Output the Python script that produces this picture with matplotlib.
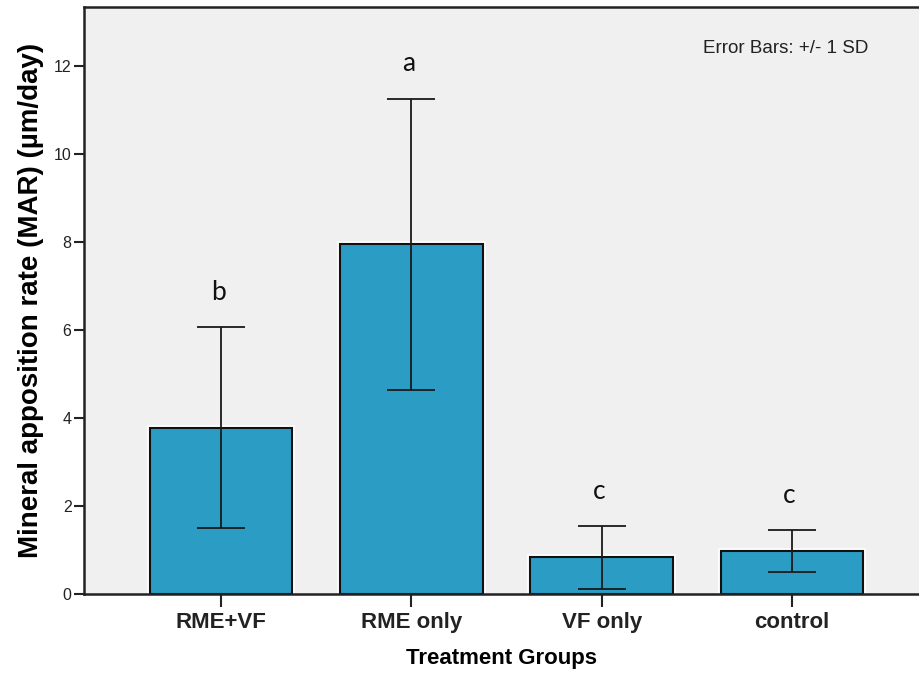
import matplotlib
matplotlib.use("Agg")
import matplotlib.pyplot as plt
import matplotlib.patheffects as pe
import numpy as np

groups = ["RME+VF", "RME only", "VF only", "control"]
means = [3.78, 7.95, 0.83, 0.98]
sds = [2.28, 3.31, 0.72, 0.48]
letters = ["b", "a", "c", "c"]

bar_color = "#2b9dc4"
fig = plt.figure(figsize=(9.19, 6.75), dpi=100)
ax = fig.add_axes([84/919, 1-594/675, 1-84/919, (594-7)/675])
ax.set_facecolor("#f0f0f0")

x = np.arange(len(groups))
bars = ax.bar(x, means, width=0.75, color=bar_color, edgecolor="#111111", linewidth=1.5, zorder=2)
for b in bars:
    b.set_path_effects([pe.Stroke(linewidth=4, foreground="white"), pe.Normal()])
ax.errorbar(x, means, yerr=sds, fmt="none", ecolor="#1a1a1a", elinewidth=1.3,
            capsize=17, capthick=1.3, zorder=3)

for xi, m, s, lt in zip(x, means, sds, letters):
    ax.annotate(lt, (xi, m + s), xytext=(-2, 16), textcoords="offset points",
                ha="center", va="bottom", fontsize=19, family="Lato", color="#111111")

ax.set_xlim(-0.72, 3.667)
ax.set_ylim(0, 13.34)
ax.set_yticks([0, 2, 4, 6, 8, 10, 12])
ax.set_xticks(x)
ax.set_xticklabels(groups, fontsize=16, fontweight="bold", family="Liberation Sans")
ax.tick_params(axis="y", labelsize=11.5, length=7, width=1.5, colors="#222222", pad=2)
ax.tick_params(axis="x", length=9, width=1.5, colors="#222222", pad=4)
for lab in ax.get_yticklabels():
    lab.set_family("Liberation Sans")
for sp in ["top", "left", "bottom"]:
    ax.spines[sp].set_linewidth(1.8)
    ax.spines[sp].set_color("#222222")
ax.spines["right"].set_visible(False)

ax.set_xlabel("Treatment Groups", fontsize=16, fontweight="bold", family="Liberation Sans", labelpad=11)
ax.set_ylabel("Mineral apposition rate (MAR) (µm/day)", fontsize=20, fontweight="bold",
              family="Liberation Sans", labelpad=7)

ax.text(868/919 * 919/835 - 84/835, 0.93, "Error Bars: +/- 1 SD", transform=ax.transAxes,
        ha="right", va="center", fontsize=13.5, family="Liberation Sans", color="#222222")

fig.savefig("out.png", dpi=100)
